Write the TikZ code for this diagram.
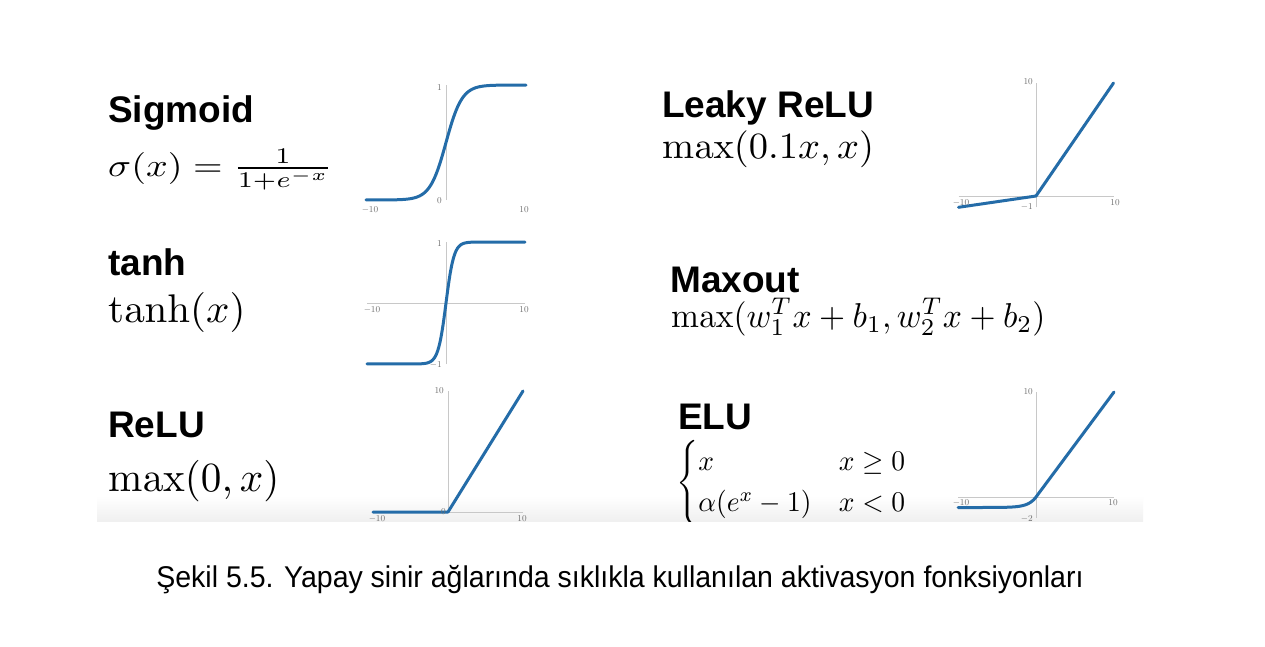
\documentclass[tikz,border=0pt]{standalone}
\usepackage{amsmath}
\usepackage{graphicx}
\usepackage[no-math]{fontspec}
\newfontfamily\titlefont{Liberation Sans}
\newfontfamily\capfont{Liberation Sans}[FakeStretch=0.95]
\newcommand\scmath[3]{\scalebox{#1}[#2]{$#3$}}
\definecolor{curveblue}{RGB}{36,108,168}
\definecolor{axisgray}{RGB}{200,200,200}
\definecolor{ticktext}{RGB}{110,110,110}
\tikzset{
  title/.style={anchor=base west, inner sep=0pt, font=\titlefont\bfseries\fontsize{37}{40}\selectfont},
  formula/.style={anchor=base west, inner sep=0pt, font=\fontsize{10}{12}\selectfont},
  curve/.style={curveblue, line width=3pt, line join=round, line cap=round},
  axis/.style={axisgray, line width=0.9pt},
  tick/.style={inner sep=0pt, text=ticktext, font=\fontsize{9}{10}\selectfont},
}
\begin{document}
\begin{tikzpicture}[x=1pt,y=-1pt]
\useasboundingbox (0,0) rectangle (1265,646);
\fill[white] (0,0) rectangle (1265,646);
\begin{scope}
\clip (97,40) rectangle (1143,521);
\shade[top color=white, bottom color=black!6] (97,496) rectangle (1143,521);

% Sigmoid
\node[title] (tsig) at (108,122) {Sigmoid};
\node[formula] (fsig) at (108,176) {\scmath{3.8}{3.2}{\sigma(x)=\frac{1}{1+e^{-x}}}};
\begin{scope}[shift={(446,200)}, xscale=8, yscale=-115]
  \draw[axis] (0,0) -- (0,1);
  \draw[curve] plot[domain=-10:10, samples=120, smooth] (\x,{1/(1+exp(-max(\x,-9)))});
\end{scope}
\node[tick, anchor=east] (s1) at (442,87) {1};
\node[tick, anchor=east] (s0) at (442,201) {0};
\node[tick] (sm) at (370,210) {$-10$};
\node[tick] (sp) at (524,210) {10};

% tanh
\node[title] (ttanh) at (108,275) {tanh};
\node[formula] (ftanh) at (108,322) {\scmath{4.1}{4.0}{\tanh(x)}};
\begin{scope}[shift={(446,303)}, xscale=7.9, yscale=-61]
  \draw[axis] (-10,0) -- (10,0);
  \draw[axis] (0,-1) -- (0,1);
  \draw[curve] plot[domain=-10:10, samples=160, smooth] (\x,{1-2/(1+exp(2*max(min(\x,4.5),-4.5)))});
\end{scope}
\node[tick, anchor=east] (t1) at (442,243) {1};
\node[tick, anchor=east] (tm1) at (442,365) {$-1$};
\node[tick] (tm) at (372,310) {$-10$};
\node[tick] (tp) at (524,310) {10};

% ReLU
\node[title] (trelu) at (108,437) {ReLU};
\node[formula] (frelu) at (108,491) {\scmath{4.12}{4.15}{\max(0,x)}};
\begin{scope}[shift={(448,512)}, xscale=7.5, yscale=-12.1]
  \draw[axis] (-10,0) -- (10,0);
  \draw[axis] (0,0) -- (0,10);
  \draw[curve] (-10,0) -- (0,0) -- (10,10);
\end{scope}
\node[tick, anchor=east] (r10) at (444,391) {10};
\node[tick, anchor=east] (r0) at (446,512) {0};
\node[tick] (rm) at (377,519) {$-10$};
\node[tick] (rp) at (522,519) {10};

% Leaky ReLU
\node[title] (tleaky) at (662,117) {Leaky ReLU};
\node[formula] (fleaky) at (662,158) {\scmath{3.85}{3.7}{\max(0.1x,x)}};
\begin{scope}[shift={(1036,196)}, xscale=7.75, yscale=-11.3]
  \draw[axis] (-10,0) -- (10,0);
  \draw[axis] (0,-1) -- (0,10);
  \draw[curve] (-10,-1) -- (0,0) -- (10,10);
\end{scope}
\node[tick, anchor=east] (l10) at (1033,82) {10};
\node[tick, anchor=east] (lm1) at (1033,207) {$-1$};
\node[tick] (lm) at (961,203) {$-10$};
\node[tick] (lp) at (1115,203) {10};

% Maxout
\node[title] (tmax) at (670,292) {Maxout};
\node[formula] (fmax) at (671,327) {\scmath{3.35}{3.45}{\max(w_1^Tx+b_1,w_2^Tx+b_2)}};

% ELU
\node[title] (telu) at (678,429) {ELU};
\node[formula] (felu) at (676,490) {\scmath{2.75}{2.85}{\begin{cases} x & x\geq 0\\ \alpha(e^x-1) & x<0\end{cases}}};
\begin{scope}[shift={(1036,497)}, xscale=7.8, yscale=-10.5]
  \draw[axis] (-10,0) -- (10,0);
  \draw[axis] (0,-2) -- (0,10);
  \draw[curve] plot[domain=-10:0, samples=80, smooth] (\x,{exp(\x)-1}) -- (10,10);
\end{scope}
\node[tick, anchor=east] (e10) at (1033,392) {10};
\node[tick, anchor=east] (em2) at (1033,519) {$-2$};
\node[tick] (em) at (961,503) {$-10$};
\node[tick] (ep) at (1113,503) {10};
\end{scope}

% Caption
\node[inner sep=0pt, anchor=base, font=\capfont\fontsize{30}{34}\selectfont] (cap) at (620,587) {Şekil 5.5. Yapay sinir ağlarında sıklıkla kullanılan aktivasyon fonksiyonları};
\end{tikzpicture}
\end{document}
